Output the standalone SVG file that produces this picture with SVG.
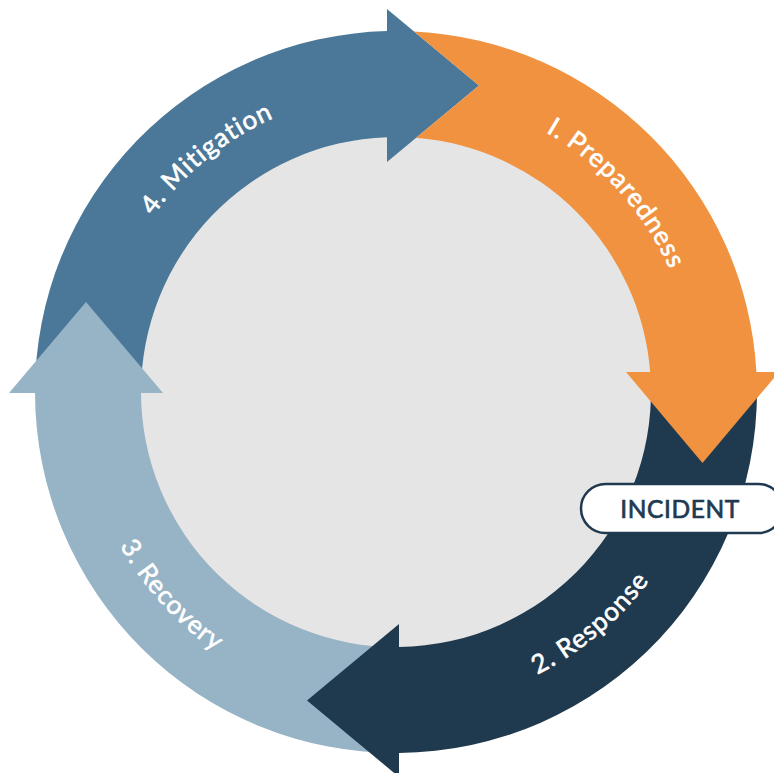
<svg xmlns="http://www.w3.org/2000/svg" width="774" height="773" viewBox="0 0 774 773">
  <style>
    .label { font-family: Lato, "Noto Sans", "Liberation Sans", sans-serif; font-size: 26px; fill: #ffffff; stroke: #ffffff; stroke-width: 0.6px; letter-spacing: 1px; }
    .tag { font-family: Lato, "Noto Sans", "Liberation Sans", sans-serif; font-size: 24.5px; fill: #1f3a50; stroke: #1f3a50; stroke-width: 0.7px; letter-spacing: 0.6px; }
    .mitigation { fill: #4b7898; }
    .recovery { fill: #97b3c6; }
    .response { fill: #1f3a4f; }
    .preparedness { fill: #f0923f; }
  </style>
  <defs>
    <!-- baselines for the curved labels, centre (396,392) -->
    <path id="arc-mitigation" d="M 99.7 438.9 A 300 300 0 0 1 503.5 111.9" fill="none"/>
    <path id="arc-preparedness" d="M 333.6 98.6 A 300 300 0 0 1 681.3 484.7" fill="none"/>
    <path id="arc-response" d="M 287.9 688.9 A 316 316 0 0 0 707.2 337.1" fill="none"/>
    <path id="arc-recovery" d="M 97.2 289.1 A 316 316 0 0 0 456.3 702.2" fill="none"/>
  </defs>

  <rect width="774" height="773" fill="#ffffff"/>
  <circle id="hub" cx="396" cy="392" r="257" fill="#e5e5e5"/>

  <!-- 4. Mitigation: left to top -->
  <g id="mitigation">
    <path class="mitigation" d="M 35 393 A 361 361 0 0 1 387 31.1 L 387 137.2 A 255 255 0 0 0 141 393 Z"/>
    <path class="mitigation" d="M 387 9 L 479 85.5 L 387 162 Z"/>
    <text class="label"><textPath href="#arc-mitigation" startOffset="50%" text-anchor="middle">4. Mitigation</textPath></text>
  </g>

  <!-- 3. Recovery: bottom to left -->
  <g id="recovery">
    <path class="recovery" d="M 399 753 A 361 361 0 0 1 35 393 L 141 393 A 255 255 0 0 0 399 647 Z"/>
    <path class="recovery" d="M 9 393 L 86 302 L 163 393 Z"/>
    <text class="label"><textPath href="#arc-recovery" startOffset="51%" text-anchor="middle">3. Recovery</textPath></text>
  </g>

  <!-- 2. Response: right to bottom -->
  <g id="response">
    <path class="response" d="M 756.4 372 A 361 361 0 0 1 399 753 L 399 647 A 255 255 0 0 0 650.2 372 Z"/>
    <path class="response" d="M 399 624 L 307 700.5 L 399 777 Z"/>
    <text class="label"><textPath href="#arc-response" startOffset="50%" text-anchor="middle">2. Response</textPath></text>
  </g>

  <!-- 1. Preparedness: top to right, notched around the mitigation head -->
  <g id="preparedness">
    <path class="preparedness" d="M 414.0 31.45 A 361 361 0 0 1 756.4 372 L 650.2 372 A 255 255 0 0 0 416.1 137.8 L 479 85.5 Z"/>
    <path class="preparedness" d="M 626 372 L 779 372 L 702.5 463 Z"/>
    <text class="label"><textPath href="#arc-preparedness" startOffset="50%" text-anchor="middle">I. Preparedness</textPath></text>
  </g>

  <!-- incident marker on the response arc -->
  <g id="incident">
    <rect x="581" y="484" width="202" height="49" rx="24.5" fill="#ffffff" stroke="#1f3a50" stroke-width="2.5"/>
    <text class="tag" x="680" y="517.5" text-anchor="middle">INCIDENT</text>
  </g>
</svg>
